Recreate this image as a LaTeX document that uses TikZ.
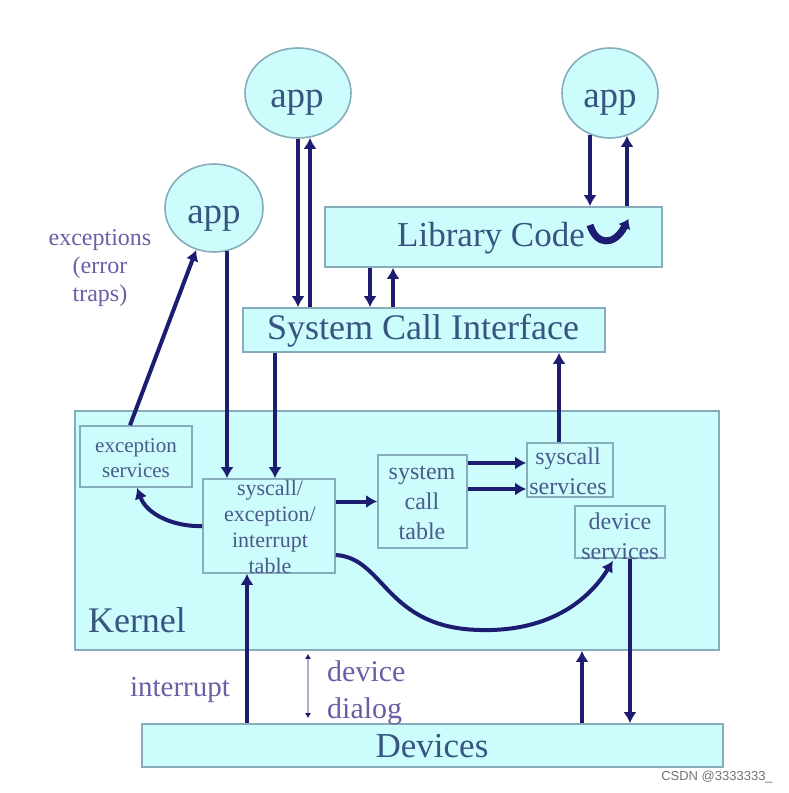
\documentclass[tikz,border=0pt]{standalone}
\usepackage{fontspec}
\setmainfont{Liberation Serif}
\newfontfamily\wmfont{Liberation Sans}
\usetikzlibrary{arrows.meta,shapes.geometric}
\definecolor{boxfill}{RGB}{204,252,252}
\definecolor{boxline}{RGB}{135,172,188}
\definecolor{arrowc}{RGB}{28,28,112}
\definecolor{bigtext}{RGB}{55,85,128}
\definecolor{labeltext}{RGB}{105,95,165}
\definecolor{intext}{RGB}{75,90,140}
\definecolor{dialogline}{RGB}{175,175,200}
\newcommand{\fsz}[2]{\fontsize{#1}{#2}\selectfont}
\begin{document}
\begin{tikzpicture}[x=1pt,y=-1pt,
  bx/.style={draw=boxline,fill=boxfill,line width=1.6pt,rectangle,inner sep=0pt},
  appnode/.style={draw=boxline,fill=boxfill,line width=1.6pt,ellipse,inner sep=0pt},
  apptxt/.style={text=bigtext,inner sep=0pt,anchor=base,font=\fsz{37}{40}},
  bigtxt/.style={text=bigtext,inner sep=0pt},
  intxt/.style={text=intext,inner sep=0pt,align=center},
  lbl/.style={text=labeltext,inner sep=0pt},
  arr/.style={draw=arrowc,line width=4pt,-{Latex[length=11pt,width=13pt]}},
  conn/.style={draw=arrowc,line width=4pt}
]
\useasboundingbox (0,0) rectangle (788,793);

% apps
\node[appnode,minimum width=106pt,minimum height=90pt] (app1) at (298,93) {};
\node[apptxt] (app1txt) at (297,107) {app};
\node[appnode,minimum width=96pt,minimum height=90pt] (app2) at (610,93) {};
\node[apptxt] (app2txt) at (610,107) {app};
\node[appnode,minimum width=98pt,minimum height=88pt] (app3) at (214,208) {};
\node[apptxt] (app3txt) at (214,223) {app};

% top boxes
\node[bx,minimum width=337pt,minimum height=60pt] (lib) at (493.5,237) {};
\node[bigtxt,font=\fsz{35}{40}] (libtxt) at (491,238) {Library Code};
\node[bx,minimum width=362pt,minimum height=44pt] (sci) at (424,330) {};
\node[bigtxt,font=\fsz{36}{40}] (scitxt) at (423,331) {System Call Interface};

% kernel
\node[bx,minimum width=644pt,minimum height=239pt] (kern) at (397,530.5) {};
\node[bigtxt,font=\fsz{36}{40}] (kerntxt) at (137,620) {Kernel};

\node[bx,minimum width=112pt,minimum height=61pt] (exc) at (136,456.5) {};
\node[intxt,font=\fsz{21}{25}] (exctxt) at (136,458) {exception\\services};

\node[bx,minimum width=132pt,minimum height=94pt] (tbl) at (269,526) {};
\node[intxt,font=\fsz{22}{26}] (tbltxt) at (270,527) {syscall/\\exception/\\interrupt\\table};

\node[bx,minimum width=89pt,minimum height=93pt] (sct) at (422.5,501.5) {};
\node[intxt,font=\fsz{24}{30}] (scttxt) at (422,503) {system\\call\\table};

\node[bx,minimum width=86pt,minimum height=54pt] (scs) at (570,470) {};
\node[intxt,font=\fsz{24}{30}] (scstxt) at (568,471) {syscall\\services};

\node[bx,minimum width=90pt,minimum height=52pt] (dev) at (620,532) {};
\node[intxt,font=\fsz{24}{30}] (devtxt) at (620,536) {device\\services};

% devices
\node[bx,minimum width=581pt,minimum height=43pt] (devs) at (432.5,745.5) {};
\node[bigtxt,font=\fsz{35}{40}] (devstxt) at (432,746) {Devices};

% labels
\node[lbl,font=\fsz{24}{28},align=center] (exclbl) at (100,268) {exceptions\\(error\\traps)};
\node[lbl,font=\fsz{29}{36}] (intlbl) at (180,690) {interrupt};
\node[lbl,font=\fsz{30}{37},align=left,anchor=west] (dlglbl) at (327,693) {device\\dialog};

% watermark
\node[text=black!55,inner sep=0pt,font=\wmfont\fsz{13}{15}] (wm) at (717,777) {CSDN @3333333\_};

% app1 <-> SCI
\draw[arr] (app1.south) -- (app1.south |- sci.north);
\draw[arr] ([xshift=12pt]app1.south |- sci.north) -- ([xshift=12pt,yshift=1pt]app1.south);
% app2 <-> library
\draw[arr] ([xshift=-20pt,yshift=4pt]app2.south) -- ([xshift=-20pt]app2.south |- lib.north);
\draw[arr] ([xshift=17pt]app2.south |- lib.north) -- ([xshift=17pt,yshift=3pt]app2.south);
% hook inside library
\coordinate (hookA) at ([xshift=96.5pt,yshift=12pt]lib.center);
\coordinate (hookB) at ([xshift=135pt,yshift=18pt]lib.center);
\draw[draw=arrowc,line width=7pt,-{Latex[length=9pt,width=14pt]}] (hookA) .. controls (596,245) and (614,247) .. (hookB);
% library <-> SCI
\draw[arr] ([xshift=-123.5pt]lib.south) -- ([xshift=-123.5pt]lib.south |- sci.north);
\draw[arr] ([xshift=-100.5pt]lib.south |- sci.north) -- ([xshift=-100.5pt]lib.south);
% SCI -> table, app3 -> table
\draw[arr] ([xshift=-149pt]sci.south) -- ([xshift=-149pt]sci.south |- tbl.north);
\draw[arr] ([xshift=13pt,yshift=2pt]app3.south) -- ([xshift=13pt]app3.south |- tbl.north);
% exception services -> app3
\draw[arr] ([xshift=-6pt]exc.north) -- (app3.-113);
% table -> exception services
\draw[arr] (tbl.west) .. controls (175,527) and (147,515) .. ([xshift=1pt]exc.south);
% table -> system call table
\draw[arr] (sct.west -| tbl.east) -- (sct.west);
% system call table -> syscall services
\draw[arr] ([yshift=7pt]scs.west -| sct.east) -- ([yshift=7pt]scs.west);
\draw[arr] ([yshift=-19pt]scs.west -| sct.east) -- ([yshift=-19pt]scs.west);
% syscall services -> SCI
\draw[arr] ([xshift=-11pt]scs.north) -- ([xshift=-11pt]scs.north |- sci.south);
% table -> device services (long curve)
\draw[arr] ([yshift=-29pt]tbl.east) .. controls (385,558) and (385,628) .. (480,630) .. controls (560,632) and (595,590) .. ([xshift=-7pt,yshift=-2pt]dev.south);
% device services -> devices
\draw[arr] ([xshift=10pt]dev.south) -- ([xshift=10pt]dev.south |- devs.north);
% devices -> kernel
\draw[arr] ([xshift=149.5pt]devs.north) -- ([xshift=149.5pt]devs.north |- kern.south);
% interrupt
\draw[arr] ([xshift=-22pt]tbl.south |- devs.north) -- ([xshift=-22pt]tbl.south);
% device dialog
\draw[draw=dialogline,line width=1.2pt,{Latex[length=5pt,width=6pt,color=arrowc]}-{Latex[length=5pt,width=6pt,color=arrowc]},shorten <=3pt,shorten >=5pt] ([xshift=39pt]tbl.south |- kern.south) -- ([xshift=39pt]tbl.south |- devs.north);
\end{tikzpicture}
\end{document}
